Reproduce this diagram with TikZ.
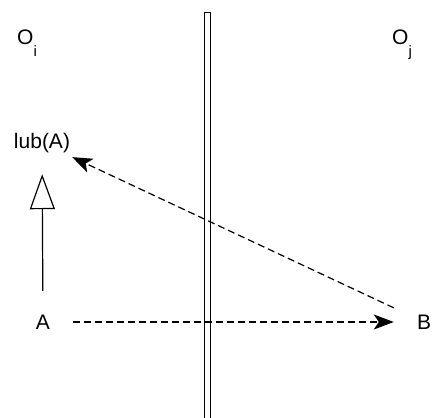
\documentclass[tikz,border=0pt]{standalone}
\usepackage{fontspec}
\setmainfont{Liberation Sans}
\usetikzlibrary{arrows.meta}
\newcommand{\lowsub}[1]{\raisebox{-12pt}{\fontsize{15}{15}\selectfont #1}}
\begin{document}
\begin{tikzpicture}[x=1pt,y=-1pt,
  lbl/.style={font=\fontsize{21}{25}\selectfont, inner sep=0pt},
  elem/.style={lbl, minimum width=60pt, minimum height=62pt},
  conn/.style={line width=1.2pt, dash pattern=on 7pt off 4pt},
  solidtip/.style={-{Stealth[length=20pt,width=15pt,inset=5pt]}},
  opentip/.style={-{Triangle[open,length=35pt,width=25pt,line width=1.2pt]}}]
\useasboundingbox (0,0) rectangle (433,417);
% separator
\draw[line width=0.9pt, fill=white] (204,12) rectangle (210,418);
% object labels
\node[lbl, anchor=base west] (oi) at (17,45) {O\lowsub{i}};
\node[lbl, anchor=base west] (oj) at (392,45) {O\lowsub{j}};
% elements
\node[elem] (lub) at (42,143) {lub(A)};
\node[elem] (a) at (43,322) {A};
\node[elem] (b) at (424,322) {B};
% connectors
\draw[line width=1.2pt, opentip] (a) -- (lub);
\draw[conn, solidtip] (a) -- (b);
\draw[conn, solidtip] (b) -- (lub);
\end{tikzpicture}
\end{document}
